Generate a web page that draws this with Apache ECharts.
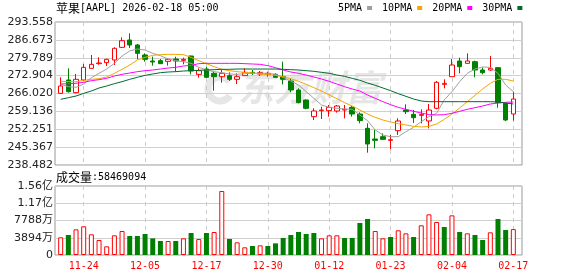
<!DOCTYPE html>
<html>
<head>
<meta charset="utf-8">
<script src="https://cdn.jsdelivr.net/npm/echarts@6.0.0/dist/echarts.min.js"></script>
<style>
  html, body { margin: 0; padding: 0; background: #fff; }
  #kline { width: 578px; height: 276px; }
</style>
</head>
<body>
<div id="kline"></div>
<script>
// 交易日
const dates = ['11-19','11-20','11-21','11-24','11-25','11-26','11-28','12-01','12-02','12-03',
  '12-04','12-05','12-08','12-09','12-10','12-11','12-12','12-15','12-16','12-17',
  '12-18','12-19','12-22','12-23','12-24','12-26','12-29','12-30','12-31','01-02',
  '01-05','01-06','01-07','01-08','01-09','01-12','01-13','01-14','01-15','01-16',
  '01-20','01-21','01-22','01-23','01-26','01-27','01-28','01-29','01-30','02-02',
  '02-03','02-04','02-05','02-06','02-09','02-10','02-11','02-12','02-13','02-17'];

const opens = [266.08,271.22,266.34,271.22,275.71,277.51,277.89,278.92,283.80,286.63,
  284.70,280.85,278.54,278.67,278.41,279.30,278.79,280.46,273.40,275.45,
  273.79,272.50,272.89,271.48,272.89,274.17,273.53,273.40,273.40,272.50,
  270.83,267.37,263.52,257.10,259.41,259.41,259.28,259.66,260.69,258.12,
  252.60,248.49,249.39,247.98,251.70,259.66,257.99,257.61,255.43,260.31,
  269.55,272.50,278.54,277.63,278.28,275.07,275.07,275.97,262.23,258.12];
const closes = [268.91,266.73,271.48,276.09,277.25,277.77,279.18,283.42,286.37,284.70,
  281.49,279.18,278.15,277.51,279.18,278.54,279.18,274.69,274.81,272.25,
  272.50,273.79,271.48,272.50,274.17,273.79,274.04,273.79,272.25,271.48,
  267.37,262.49,260.31,259.28,259.66,260.69,261.20,259.92,258.12,255.56,
  246.57,247.98,248.36,248.23,255.43,259.02,256.71,257.99,259.66,270.32,
  269.94,276.99,276.35,278.54,275.07,274.04,275.71,262.49,255.81,263.90];
const lows = [265.83,266.34,266.08,270.96,275.50,277.12,276.61,276.99,283.55,283.55,
  279.18,278.28,276.74,277.40,276.74,274.43,277.25,273.40,272.12,272.10,
  267.11,270.19,270.83,269.68,272.80,273.14,272.76,272.50,272.20,269.55,
  266.47,262.23,259.92,255.81,256.20,257.10,258.64,256.46,257.10,254.53,
  243.23,244.90,248.30,244.51,250.04,258.12,254.66,254.53,252.60,259.92,
  268.01,272.40,273.79,277.60,272.25,273.40,274.81,260.56,255.43,255.56];
const highs = [272.25,275.71,273.53,277.38,280.85,279.95,279.40,283.80,287.65,289.19,
  285.08,281.49,280.21,279.30,279.57,280.21,279.82,280.59,275.71,276.35,
  274.69,275.33,274.17,273.79,275.71,275.07,274.69,274.43,273.79,278.28,
  271.86,268.01,263.77,260.31,260.95,261.59,261.60,261.59,261.20,258.77,
  254.53,251.96,250.68,250.04,256.46,261.85,259.66,259.92,261.98,270.83,
  271.48,279.31,279.82,281.49,278.67,275.97,280.46,276.23,262.30,266.73];

const ma5 = [269.55,268.65,268.39,269.68,272.12,273.79,275.45,277.64,280.46,282.39,
  283.16,282.77,281.49,280.59,279.31,278.67,278.28,277.64,276.10,275.07,
  274.43,274.04,273.53,273.40,273.66,273.79,273.79,273.79,273.40,272.25,
  270.83,269.29,266.73,264.16,261.59,260.69,260.31,260.05,259.92,257.74,
  255.56,251.96,250.04,249.39,249.39,251.32,252.99,255.17,257.10,258.38,
  263.52,266.73,270.58,273.79,275.45,276.23,276.10,273.79,269.29,266.73];
const ma10 = [270.71,270.58,270.58,271.09,271.48,271.73,272.37,273.79,275.33,276.99,
  278.92,279.95,280.72,280.98,281.10,281.10,280.98,279.95,278.67,277.51,
  276.35,275.33,274.81,274.43,274.17,273.91,273.53,273.27,273.01,272.50,
  271.73,270.71,269.55,268.27,266.98,265.44,264.03,262.49,261.20,259.66,
  258.12,256.84,255.81,255.04,254.40,253.89,253.37,253.12,253.37,254.27,
  256.07,258.12,260.44,262.87,265.31,267.75,269.94,271.48,271.48,270.83];
const ma20 = [269.68,269.81,269.94,270.32,270.96,271.35,271.86,272.76,273.40,273.91,
  274.43,274.81,275.07,275.45,275.84,276.10,276.61,276.87,277.51,277.64,
  277.64,277.64,277.64,277.64,277.51,277.38,277.25,276.74,275.97,275.07,
  274.30,273.79,273.14,272.37,271.60,270.71,269.68,268.65,267.75,266.98,
  265.44,264.16,262.87,261.72,260.69,259.92,259.15,258.51,257.87,257.74,
  257.87,258.38,259.15,259.92,260.56,261.20,261.98,262.36,262.62,262.75];
const ma30 = [263.77,264.41,265.05,266.08,266.98,268.14,268.91,269.81,270.58,271.48,
  272.25,273.01,273.53,274.04,274.30,274.43,274.69,274.81,274.94,275.07,
  275.20,275.33,275.33,275.45,275.45,275.45,275.45,275.45,275.45,275.33,
  275.20,275.07,274.81,274.56,274.17,273.79,273.14,272.63,271.86,271.09,
  270.06,269.17,268.14,267.11,265.96,264.93,263.90,263.13,262.87,262.87,
  262.87,262.87,262.87,262.87,262.87,262.87,262.87,262.75,262.36,261.98];

const volumes = [39900000,45100000,57900000,64700000,46700000,33900000,19600000,44400000,54200000,42900000,
  42900000,47400000,37600000,31600000,31600000,31600000,37600000,49700000,36000000,49700000,
  51900000,144500000,36100000,28600000,17300000,20300000,21800000,20300000,26300000,38400000,
  45100000,51900000,47400000,49700000,37600000,44400000,44400000,38400000,38400000,72200000,
  81300000,54200000,37600000,40600000,55700000,48900000,40600000,67000000,91800000,74500000,
  63200000,89500000,51900000,48900000,45100000,33900000,51200000,81300000,56400000,58469094];
// 1 = 红(涨) 0 = 绿(跌)
const volUp = [1,0,1,1,1,1,1,1,1,0, 0,0,0,0,1,0,1,0,1,0,
  1,1,0,1,1,0,1,0,0,0, 0,0,0,0,1,1,1,0,0,0,
  0,1,1,0,1,1,0,1,1,1, 0,1,0,1,0,0,1,0,0,1];

const priceTicks = [238.482,245.367,252.251,259.136,266.020,272.904,279.789,286.673,293.558];
const volTicks = [0,38940000,77880000,116820000,155760000];
const dateTickIdx = [3,11,19,27,35,43,51,59];

const RED = '#ff0000';
const GREEN = '#008000';
const labelFont = { fontFamily: 'DejaVu Sans, Noto Sans CJK SC', fontSize: 11, color: '#222' };

const chart = echarts.init(document.getElementById('kline'), null, { renderer: 'canvas' });

function volLabel(v) {
  if (v >= 1e8) return (v / 1e8).toFixed(2) + '亿';
  if (v === 0) return '0';
  return Math.round(v / 1e4) + '万';
}

const xBase = {
  type: 'value', min: -0.74, max: 60.13,
  axisLine: { show: false },
  axisTick: { show: false, customValues: dateTickIdx },
  splitLine: { show: true, lineStyle: { color: '#cccccc', type: [4, 4] } }
};

const titleRich = {
  c: { fontFamily: 'Noto Sans CJK SC', fontSize: 12, fontWeight: 'normal', color: '#000' },
  a: { fontFamily: 'DejaVu Sans Mono', fontSize: 10, fontWeight: 'normal', color: '#000' }
};

chart.setOption({
  animation: false,
  backgroundColor: '#fff',
  title: [
    { left: 56, top: 2, padding: 0, text: '{c|苹果}{a|[AAPL] 2026-02-18 05:00}',
      textStyle: { fontWeight: 'normal', rich: titleRich } },
    { left: 56, top: 171, padding: 0, text: '{c|成交量}{a|:58469094}',
      textStyle: { fontWeight: 'normal', rich: titleRich } }
  ],
  legend: {
    left: 338, top: 3, padding: 0, align: 'right', icon: 'rect',
    itemWidth: 5, itemHeight: 4, itemGap: 10,
    data: ['5PMA', '10PMA', '20PMA', '30PMA'],
    textStyle: { fontFamily: 'DejaVu Sans Mono', fontSize: 10, color: '#000' }
  },
  graphic: [
    { type: 'arc', z: -10, shape: { cx: 220, cy: 89, r: 12, startAngle: 0.6, endAngle: 5.6 },
      style: { stroke: '#e6e6e6', lineWidth: 7, fill: null } },
    { type: 'text', z: -10, left: 238, top: 69,
      style: { text: '东方财富', font: 'italic bold 36px "Noto Sans CJK SC"', fill: '#e6e6e6' } }
  ],
  grid: [
    { left: 55, top: 22, width: 467, height: 143, show: true, borderColor: '#999', borderWidth: 1 },
    { left: 55, top: 186, width: 467, height: 69, show: true, borderColor: '#999', borderWidth: 1 }
  ],
  xAxis: [
    Object.assign({}, xBase, { gridIndex: 0, axisLabel: { show: false } }),
    Object.assign({}, xBase, {
      gridIndex: 1,
      axisLabel: {
        show: true, customValues: dateTickIdx, margin: 6,
        formatter: v => dates[Math.round(v)],
        fontFamily: 'DejaVu Sans Mono', fontSize: 10, color: RED
      }
    })
  ],
  yAxis: [
    {
      type: 'value', gridIndex: 0, min: 238.482, max: 293.558,
      axisLine: { show: false },
      axisTick: { show: false, customValues: priceTicks },
      axisLabel: Object.assign({ customValues: priceTicks, margin: 2, formatter: v => v.toFixed(3) }, labelFont),
      splitLine: { lineStyle: { color: '#d0d0d0' } }
    },
    {
      type: 'value', gridIndex: 1, min: 0, max: 155760000,
      axisLine: { show: false },
      axisTick: { show: false, customValues: volTicks },
      axisLabel: Object.assign({ customValues: volTicks, margin: 2, formatter: volLabel }, labelFont),
      splitLine: { lineStyle: { color: '#d0d0d0' } }
    }
  ],
  series: [
    { name: '5PMA', type: 'line', xAxisIndex: 0, yAxisIndex: 0, symbol: 'none',
      data: ma5.map((v, i) => [i, v]),
      itemStyle: { color: '#a0a0a0' }, lineStyle: { color: '#a0a0a0', width: 1 } },
    { name: '10PMA', type: 'line', xAxisIndex: 0, yAxisIndex: 0, symbol: 'none',
      data: ma10.map((v, i) => [i, v]),
      itemStyle: { color: '#f0a800' }, lineStyle: { color: '#f0a800', width: 1 } },
    { name: '20PMA', type: 'line', xAxisIndex: 0, yAxisIndex: 0, symbol: 'none',
      data: ma20.map((v, i) => [i, v]),
      itemStyle: { color: '#ff00ff' }, lineStyle: { color: '#ff00ff', width: 1 } },
    { name: '30PMA', type: 'line', xAxisIndex: 0, yAxisIndex: 0, symbol: 'none',
      data: ma30.map((v, i) => [i, v]),
      itemStyle: { color: '#006b2e' }, lineStyle: { color: '#006b2e', width: 1 } },
    {
      name: 'K', type: 'candlestick', xAxisIndex: 0, yAxisIndex: 0,
      barWidth: 5,
      encode: { x: 0, y: [1, 2, 3, 4] },
      data: dates.map((d, i) => [i, opens[i], closes[i], lows[i], highs[i]]),
      itemStyle: { color: '#ffffff', color0: GREEN, borderColor: RED, borderColor0: GREEN, borderWidth: 1 }
    },
    {
      name: 'VOL', type: 'bar', xAxisIndex: 1, yAxisIndex: 1,
      barWidth: 5,
      data: volumes.map((v, i) => ({
        value: [i, v],
        itemStyle: volUp[i]
          ? { color: '#ffffff', borderColor: RED, borderWidth: 1 }
          : { color: GREEN, borderColor: GREEN, borderWidth: 0 }
      }))
    }
  ]
});
</script>
</body>
</html>
